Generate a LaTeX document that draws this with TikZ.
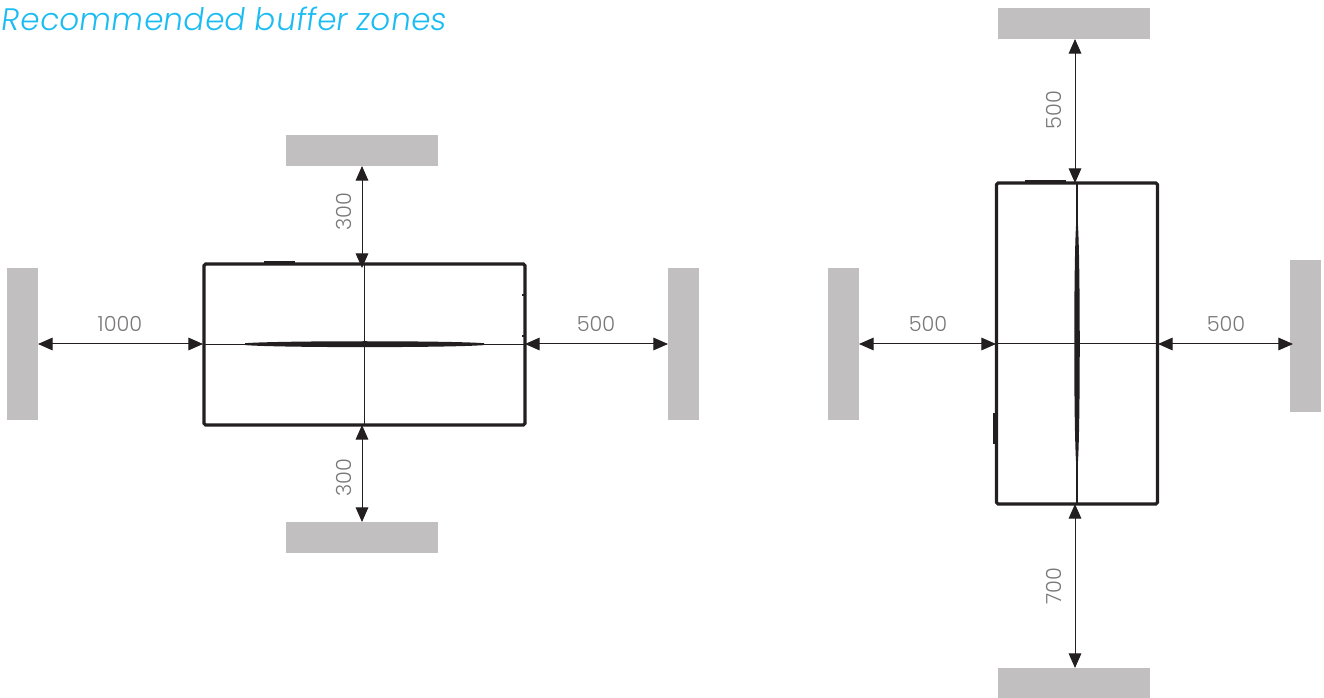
\documentclass[tikz,border=0pt]{standalone}
\usepackage{fontspec}
\newfontfamily\dimfont{Poppins Light}
\newfontfamily\titlefont[FakeSlant=0.14,LetterSpace=1.2]{Poppins Light}
\usetikzlibrary{arrows.meta}
\definecolor{zonegray}{HTML}{C1BFC0}
\definecolor{inkblack}{HTML}{231F20}
\definecolor{titleblue}{HTML}{1BBCF2}
\definecolor{dimgray}{HTML}{7A7879}
\tikzset{
  x=0.75pt,y=-0.75pt,
  hzone/.style={fill=zonegray,draw=none,inner sep=0pt,outer sep=0pt,minimum width=114pt,minimum height=23.25pt},
  vzone/.style={fill=zonegray,draw=none,inner sep=0pt,outer sep=0pt,minimum width=23.25pt,minimum height=114pt},
  dimarrow/.style={draw=inkblack,line width=0.75pt,{Stealth[length=11pt,width=9.5pt,inset=0pt]}-{Stealth[length=11pt,width=9.5pt,inset=0pt]}},
  unit/.style={draw=inkblack,line width=2.3pt,rounded corners=1.2pt,inner sep=0pt,outer sep=0pt},
  axis/.style={draw=inkblack,line width=0.85pt},
  detail/.style={draw=inkblack,line width=0.9pt},
  dimtext/.style={text=dimgray,font=\dimfont\fontsize{15.6}{15.6}\selectfont,inner sep=0pt},
}
\begin{document}
\begin{tikzpicture}
\useasboundingbox (0,0) rectangle (1324,698);
\node[anchor=base west,inner sep=0pt,text=titleblue,font=\titlefont\fontsize{23.3}{23.3}\selectfont] (title) at (0.5,31) {Recommended buffer zones};

% left figure
\node[hzone] (LT) at (362,150.5) {};
\node[hzone] (LB) at (362,537.5) {};
\node[vzone] (LL) at (22.5,344) {};
\node[vzone] (LR) at (683.5,344) {};
\node[unit,minimum width=240.75pt,minimum height=120.75pt] (LU) at (364.5,344.5) {};
\draw[axis] (LU.west) -- (LU.east);
\draw[axis] (LU.north) -- (LU.south);
\fill[inkblack] (245,343.2) .. controls (280,340.6) and (450,340.6) .. (484,343.2) -- (484,345.1) .. controls (450,347.8) and (280,347.8) .. (245,345.1) -- cycle;
\draw[detail] (264,262) -- (295,262);
\draw[detail] (522,295) -- (525,295);
\draw[detail] (522,336) -- (525,336);
\coordinate (LUa) at (362,268);
\coordinate (LUb) at (362,425);
\coordinate (LTa) at (362,166);
\coordinate (LBa) at (362,522);
\coordinate (LUl) at (203,344);
\coordinate (LUr) at (525,344);
\coordinate (LLa) at (38,344);
\coordinate (LRa) at (668,344);
\draw[dimarrow] (LTa) -- (LUa);
\draw[dimarrow] (LUb) -- (LBa);
\draw[dimarrow] (LLa) -- (LUl);
\draw[dimarrow] (LUr) -- (LRa);
\node[dimtext] (d1) at (120,323.5) {1000};
\node[dimtext] (d2) at (596,323.5) {500};
\node[dimtext,rotate=90] (d3) at (344,212) {300};
\node[dimtext,rotate=90] (d4) at (344,478) {300};

% right figure
\node[hzone] (RT) at (1074,23.5) {};
\node[hzone] (RB) at (1074,683.5) {};
\node[vzone] (RL) at (843.5,344) {};
\node[vzone] (RR) at (1305.5,336) {};
\node[unit,minimum width=120.75pt,minimum height=240.75pt] (RU) at (1077,343.5) {};
\draw[axis] (RU.west) -- (RU.east);
\draw[axis] (RU.north) -- (RU.south);
\fill[inkblack] (1076.2,223) .. controls (1073.6,258) and (1073.6,430) .. (1076.2,464) -- (1077.8,464) .. controls (1080.4,430) and (1080.4,258) .. (1077.8,223) -- cycle;
\draw[detail] (1025,181) -- (1066,181);
\draw[detail] (994,413) -- (994,444);
\coordinate (RUa) at (1075,183);
\coordinate (RUb) at (1075,504);
\coordinate (RTa) at (1075,39);
\coordinate (RBa) at (1075,668);
\coordinate (RUl) at (996,344);
\coordinate (RUr) at (1158,344);
\coordinate (RLa) at (859,344);
\coordinate (RRa) at (1293,344);
\draw[dimarrow] (RTa) -- (RUa);
\draw[dimarrow] (RUb) -- (RBa);
\draw[dimarrow] (RLa) -- (RUl);
\draw[dimarrow] (RUr) -- (RRa);
\node[dimtext] (d5) at (928,323.5) {500};
\node[dimtext] (d6) at (1226,323.5) {500};
\node[dimtext,rotate=90] (d7) at (1054,110) {500};
\node[dimtext,rotate=90] (d8) at (1054,586) {700};
\end{tikzpicture}
\end{document}
